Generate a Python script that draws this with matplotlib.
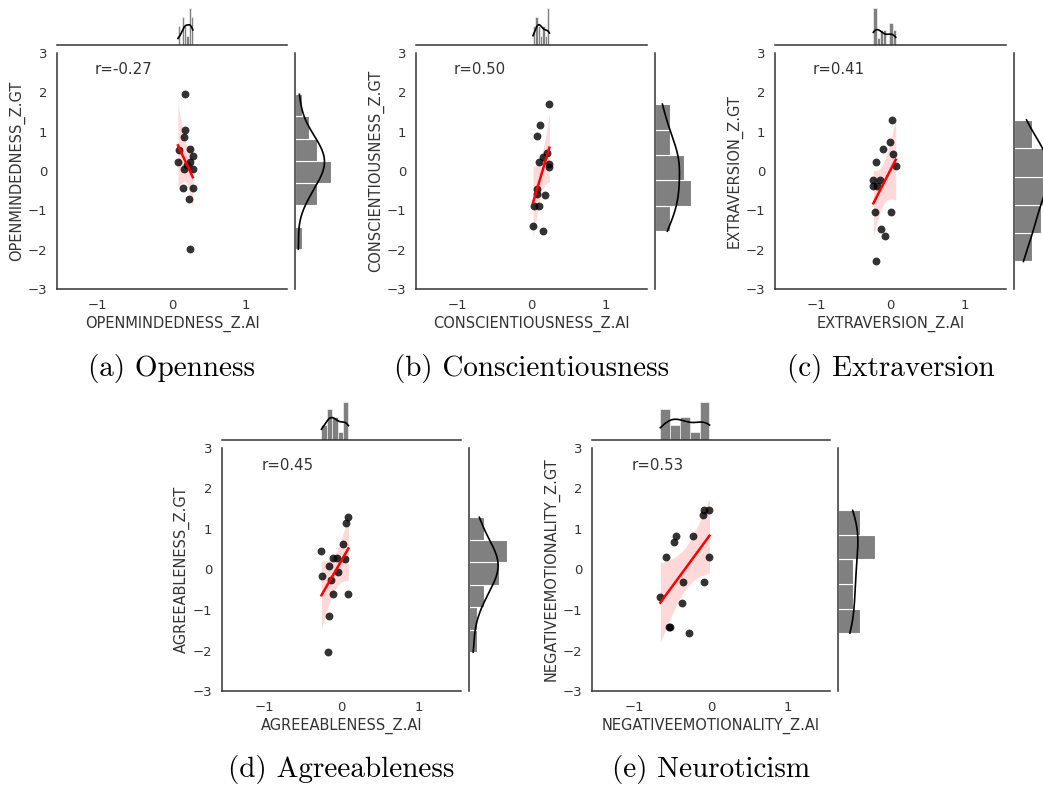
"""Five AI-vs-GT z-score joint plots (Big Five traits) in one figure."""

import matplotlib

matplotlib.use("Agg")
import matplotlib.pyplot as plt
import numpy as np

W, H = 1043, 789

# ---------------------------------------------------------------------------
# Data
# ---------------------------------------------------------------------------

OPEN_AI = [0.18, 0.18, 0.16, 0.10, 0.24, 0.28, 0.08, 0.24, 0.16, 0.28, 0.20, 0.15, 0.28, 0.23, 0.24]
OPEN_GT = [1.95, 1.04, 0.87, 0.53, 0.55, 0.38, 0.23, 0.22, 0.06, 0.06, 0.15, -0.43, -0.43, -0.72, -1.99]

CONS_AI = [0.24, 0.12, 0.08, 0.21, 0.15, 0.10, 0.23, 0.23, 0.08, 0.08, 0.18, 0.04, 0.10, 0.02, 0.15]
CONS_GT = [1.70, 1.17, 0.90, 0.47, 0.36, 0.23, 0.19, 0.10, -0.45, -0.58, -0.61, -0.88, -0.88, -1.41, -1.53]

EXTR_AI = [0.02, -0.01, -0.10, 0.04, -0.20, 0.07, -0.23, -0.14, -0.23, -0.18, -0.21, 0.01, -0.13, -0.07, -0.19]
EXTR_GT = [1.30, 0.74, 0.55, 0.42, 0.23, 0.13, -0.22, -0.22, -0.37, -0.37, -1.03, -1.03, -1.47, -1.66, -2.30]

AGRE_AI = [0.09, 0.06, 0.02, -0.26, -0.11, -0.06, 0.04, -0.16, -0.25, -0.04, -0.13, -0.11, 0.08, -0.16, -0.17]
AGRE_GT = [1.29, 1.16, 0.63, 0.46, 0.28, 0.28, 0.25, 0.09, -0.16, -0.07, -0.26, -0.61, -0.61, -1.16, -2.04]

NEGE_AI = [-0.09, -0.03, -0.11, -0.45, -0.24, -0.48, -0.59, -0.02, -0.37, -0.09, -0.66, -0.38, -0.55, -0.54, -0.29]
NEGE_GT = [1.46, 1.46, 1.34, 0.82, 0.82, 0.69, 0.30, 0.32, -0.31, -0.31, -0.68, -0.82, -1.43, -1.42, -1.57]

TRAITS = ["OPENMINDEDNESS", "CONSCIENTIOUSNESS", "EXTRAVERSION", "AGREEABLENESS", "NEGATIVEEMOTIONALITY"]
R_LABELS = ["r=-0.27", "r=0.50", "r=0.41", "r=0.45", "r=0.53"]
CAPTIONS = ["(a) Openness", "(b) Conscientiousness", "(c) Extraversion", "(d) Agreeableness", "(e) Neuroticism"]
TOP_BINS = [7, 7, 7, 5, 5]
RIGHT_BINS = [7, 5, 5, 6, 5]

# ---------------------------------------------------------------------------
# Layout (pixel boxes of the main axes: left, top, right, bottom)
# ---------------------------------------------------------------------------

MAIN_BOXES = [
    (57, 53, 287, 289),
    (416, 53, 647, 289),
    (775, 53, 1006, 289),
    (222, 448, 461, 691),
    (592, 448, 830, 691),
]
CAPTION_Y = [368, 368, 368, 770, 770]
GAP = 8
T_CRIT = 2.16  # t(0.975, df=13)
TEXT_C = "0.2"
SPINE_C = "0.2"
BAR_C = "#808080"


def px_box(left, top, right, bottom):
    return [left / W, 1 - bottom / H, (right - left) / W, (bottom - top) / H]


def kde_counts(v, grid, n_bins):
    v = np.asarray(v)
    n = len(v)
    bw = v.std(ddof=1) * n ** (-1 / 5)
    dens = np.exp(-0.5 * ((grid[:, None] - v[None, :]) / bw) ** 2).sum(axis=1)
    dens /= n * bw * np.sqrt(2 * np.pi)
    binwidth = (v.max() - v.min()) / n_bins
    return dens * n * binwidth


def draw_panel(fig, box, x, y, trait, r_label, caption, cap_y, top_bins, right_bins):
    x = np.asarray(x)
    y = np.asarray(y)
    left, top, right, bottom = box
    mw = (right - left) / 5
    mh = (bottom - top) / 5

    ax = fig.add_axes(px_box(left, top, right, bottom))
    ax_top = fig.add_axes(px_box(left, top - GAP - mh, right, top - GAP))
    ax_right = fig.add_axes(px_box(right + GAP, top, right + GAP + mw, bottom))

    # regression with analytic 95% band
    xg = np.linspace(x.min(), x.max(), 100)
    slope, icpt = np.polyfit(x, y, 1)
    resid = y - (slope * x + icpt)
    s = np.sqrt((resid ** 2).sum() / (len(x) - 2))
    sxx = ((x - x.mean()) ** 2).sum()
    yhat = slope * xg + icpt
    se = s * np.sqrt(1 / len(x) + (xg - x.mean()) ** 2 / sxx)
    ax.fill_between(xg, yhat - T_CRIT * se, yhat + T_CRIT * se, color="red", alpha=0.15, linewidth=0)
    ax.scatter(x, y, s=32, color="k", alpha=0.8, linewidths=0, zorder=3)
    ax.plot(xg, yhat, color="red", linewidth=1.8, zorder=4)

    ax.set_xlim(-1.55, 1.55)
    ax.set_ylim(-3, 3)
    ax.set_xticks([-1, 0, 1])
    ax.set_yticks([-3, -2, -1, 0, 1, 2, 3])
    ax.tick_params(length=0, labelsize=9.5, labelcolor=TEXT_C, pad=7)
    for side in ("top", "right"):
        ax.spines[side].set_visible(False)
    for side in ("left", "bottom"):
        ax.spines[side].set_color(SPINE_C)
        ax.spines[side].set_linewidth(1.1)
    ax.set_xlabel(f"{trait}_Z.AI", fontsize=10.5, color=TEXT_C, labelpad=3)
    ax.set_ylabel(f"{trait}_Z.GT", fontsize=10.5, color=TEXT_C, labelpad=2)
    ax.text(0.165, 0.93, r_label, transform=ax.transAxes, fontsize=10.8, color=TEXT_C, va="center")

    # top marginal
    counts, edges = np.histogram(x, bins=top_bins)
    ax_top.bar(edges[:-1], counts, width=np.diff(edges), align="edge",
               color=BAR_C, edgecolor="white", linewidth=0.4)
    gx = np.linspace(x.min(), x.max(), 200)
    ax_top.plot(gx, kde_counts(x, gx, top_bins), color="k", linewidth=1.2)
    ax_top.set_xlim(ax.get_xlim())
    ax_top.set_ylim(0, counts.max() * 1.27)

    # right marginal
    counts, edges = np.histogram(y, bins=right_bins)
    ax_right.barh(edges[:-1], counts, height=np.diff(edges), align="edge",
                  color=BAR_C, edgecolor="white", linewidth=0.8)
    gy = np.linspace(y.min(), y.max(), 200)
    ax_right.plot(kde_counts(y, gy, right_bins), gy, color="k", linewidth=1.2)
    ax_right.set_ylim(ax.get_ylim())
    ax_right.set_xlim(0, counts.max() * 1.27)

    for m, keep in ((ax_top, "bottom"), (ax_right, "left")):
        m.set_xticks([])
        m.set_yticks([])
        m.patch.set_alpha(0)
        for side in ("top", "right", "left", "bottom"):
            m.spines[side].set_visible(side == keep)
        m.spines[keep].set_color(SPINE_C)
        m.spines[keep].set_linewidth(1.1)

    cx = left + (0 - (-1.55)) / 3.1 * (right - left)
    fig.text(cx / W, 1 - cap_y / H, caption, family="cmr10", fontsize=21,
             ha="center", va="center", color="black")


def main() -> None:
    fig = plt.figure(figsize=(W / 100, H / 100), dpi=100)
    xs = [OPEN_AI, CONS_AI, EXTR_AI, AGRE_AI, NEGE_AI]
    ys = [OPEN_GT, CONS_GT, EXTR_GT, AGRE_GT, NEGE_GT]
    for i in range(5):
        draw_panel(fig, MAIN_BOXES[i], xs[i], ys[i], TRAITS[i], R_LABELS[i],
                   CAPTIONS[i], CAPTION_Y[i], TOP_BINS[i], RIGHT_BINS[i])
    fig.savefig("out.png", dpi=100)
    plt.close(fig)


if __name__ == "__main__":
    main()
